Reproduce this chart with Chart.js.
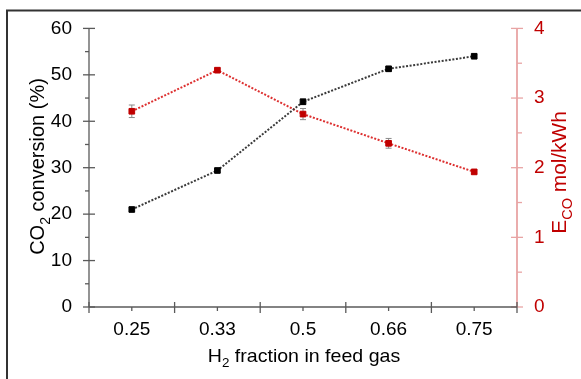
<!DOCTYPE html>
<html>
<head>
<meta charset="utf-8">
<script src="https://cdn.jsdelivr.net/npm/chart.js@4.4.0/dist/chart.umd.min.js"></script>
<style>
  html, body { margin: 0; padding: 0; background: #fff; }
  #wrap { position: relative; width: 581px; height: 379px; }
</style>
</head>
<body>
<div id="wrap"><canvas id="myChart"></canvas></div>
<script>
// data
var categories = ['0.25', '0.33', '0.5', '0.66', '0.75'];
var conversion = [21.0, 29.4, 44.2, 51.3, 54.0];       // CO2 conversion (%)
var conversionErr = [0.4, 0.4, 0.6, 0.5, 0.4];
var energy = [2.81, 3.40, 2.77, 2.35, 1.94];           // E_CO mol/kWh
var energyErr = [0.09, 0.03, 0.08, 0.07, 0.03];
var leftTicks = [0, 10, 20, 30, 40, 50, 60];
var rightTicks = [0, 1, 2, 3, 4];

var FONT = '"Liberation Sans", Arial, sans-serif';
var RED = '#c00000';
var AXIS = '#5a5a5a';
var PINK = '#e8a4a4';

function richText(ctx, parts, size, color, stretch) {
    // draws parts centered on x=0, baseline y=0
    var subSize = Math.round(size * 0.7);
    var total = 0;
    parts.forEach(function (p) {
        ctx.font = (p[1] ? subSize : size) + 'px ' + FONT;
        total += ctx.measureText(p[0]).width;
    });
    ctx.scale(stretch || 1, 1);
    var x = -total / 2;
    ctx.fillStyle = color;
    ctx.textBaseline = 'alphabetic';
    ctx.textAlign = 'left';
    parts.forEach(function (p) {
        ctx.font = (p[1] ? subSize : size) + 'px ' + FONT;
        ctx.fillText(p[0], x, p[1] ? size * 0.3 : 0);
        x += ctx.measureText(p[0]).width;
    });
}

function line(ctx, x1, y1, x2, y2) {
    ctx.beginPath();
    ctx.moveTo(x1, y1);
    ctx.lineTo(x2, y2);
    ctx.stroke();
}

var decorPlugin = {
    id: 'decor',
    beforeDraw: function (chart) {
        var ctx = chart.ctx;
        ctx.save();
        ctx.fillStyle = '#fff';
        ctx.fillRect(0, 0, chart.width, chart.height);
        // outer frame (only top and left edges show)
        ctx.strokeStyle = '#333';
        ctx.lineWidth = 2;
        ctx.beginPath();
        ctx.moveTo(7, chart.height + 2);
        ctx.lineTo(7, 10.5);
        ctx.lineTo(chart.width + 2, 10.5);
        ctx.stroke();
        ctx.restore();
    },
    beforeDatasetsDraw: function (chart) {
        var ctx = chart.ctx;
        var a = chart.chartArea;
        var xs = chart.scales.x, ys = chart.scales.y, y1 = chart.scales.y1;
        ctx.save();

        // right axis (pink)
        ctx.strokeStyle = PINK;
        ctx.lineWidth = 1.8;
        line(ctx, a.right, a.top, a.right, a.bottom);
        ctx.lineWidth = 1.3;
        rightTicks.forEach(function (v, i) {
            var y = y1.getPixelForValue(v);
            line(ctx, a.right - 6, y, a.right + 6, y);
            if (i < rightTicks.length - 1) {
                var ym = y1.getPixelForValue(v + 0.5);
                line(ctx, a.right, ym, a.right + 5, ym);
            }
        });

        // left axis
        ctx.strokeStyle = AXIS;
        ctx.lineWidth = 1.3;
        line(ctx, a.left, a.top, a.left, a.bottom);
        leftTicks.forEach(function (v, i) {
            var y = ys.getPixelForValue(v);
            line(ctx, a.left - 6, y, a.left + 6, y);
            if (i < leftTicks.length - 1) {
                var ym = ys.getPixelForValue(v + 5);
                line(ctx, a.left - 4, ym, a.left, ym);
            }
        });

        // bottom axis
        line(ctx, a.left, a.bottom, a.right, a.bottom);
        var step = (a.right - a.left) / categories.length;
        for (var k = 0; k <= categories.length; k++) {
            var x = a.left + k * step;
            line(ctx, x, a.bottom - 5, x, a.bottom + 6);
        }
        categories.forEach(function (c, i) {
            var xc = xs.getPixelForValue(i);
            line(ctx, xc, a.bottom, xc, a.bottom + 4);
        });

        // error bars
        ctx.strokeStyle = '#8a8a8a';
        ctx.lineWidth = 1;
        function bars(vals, errs, scale) {
            vals.forEach(function (v, i) {
                var x = xs.getPixelForValue(i);
                var top = scale.getPixelForValue(v + errs[i]);
                var bot = scale.getPixelForValue(v - errs[i]);
                line(ctx, x, top, x, bot);
                line(ctx, x - 3, top, x + 3, top);
                line(ctx, x - 3, bot, x + 3, bot);
            });
        }
        bars(conversion, conversionErr, ys);
        bars(energy, energyErr, y1);

        // axis titles
        ctx.save();
        ctx.translate(44, 166.5);
        ctx.rotate(-Math.PI / 2);
        richText(ctx, [['CO', false], ['2', true], [' conversion (%)', false]], 20, '#000');
        ctx.restore();

        ctx.save();
        ctx.translate(566, 172.5);
        ctx.rotate(-Math.PI / 2);
        richText(ctx, [['E', false], ['CO', true], [' mol/kWh', false]], 20, RED, 1.04);
        ctx.restore();

        ctx.save();
        ctx.translate(304, 361.5);
        richText(ctx, [['H', false], ['2', true], [' fraction in feed gas', false]], 19, '#000', 1.03);
        ctx.restore();

        ctx.restore();
    }
};

function renderChart() {
    var ctx = document.getElementById('myChart').getContext('2d');

    var myChart = new Chart(ctx, {
        type: 'line',
        data: {
            labels: categories,
            datasets: [{
                label: 'CO2 conversion',
                data: conversion,
                yAxisID: 'y',
                borderColor: '#3a3a3a',
                borderWidth: 2,
                borderDash: [2, 1.6],
                pointStyle: 'rect',
                pointRadius: 4,
                pointBorderWidth: 1,
                pointBackgroundColor: '#000',
                pointBorderColor: '#000',
                tension: 0,
                fill: false
            }, {
                label: 'E_CO',
                data: energy,
                yAxisID: 'y1',
                borderColor: '#dd3030',
                borderWidth: 2,
                borderDash: [2, 1.6],
                pointStyle: 'rect',
                pointRadius: 4,
                pointBorderWidth: 1,
                pointBackgroundColor: RED,
                pointBorderColor: RED,
                tension: 0,
                fill: false
            }]
        },
        options: {
            responsive: true,
            maintainAspectRatio: false,
            animation: false,
            layout: { padding: { top: 28, left: 0, right: 0, bottom: 0 } },
            plugins: {
                legend: { display: false },
                tooltip: { enabled: false }
            },
            scales: {
                x: {
                    type: 'category',
                    offset: true,
                    grid: { display: false, drawTicks: false },
                    border: { display: false },
                    ticks: { color: '#000', font: { family: FONT, size: 19 }, padding: 11, maxRotation: 0 },
                    afterFit: function (s) { s.height = 72; }
                },
                y: {
                    position: 'left',
                    min: 0, max: 60,
                    grid: { display: false, drawTicks: false },
                    border: { display: false },
                    ticks: { stepSize: 10, color: '#000', font: { family: FONT, size: 19 }, padding: 17 },
                    afterFit: function (s) { s.width = 89; }
                },
                y1: {
                    position: 'right',
                    min: 0, max: 4,
                    grid: { display: false, drawTicks: false },
                    border: { display: false },
                    ticks: { stepSize: 1, color: RED, font: { family: FONT, size: 19 }, padding: 17 },
                    afterFit: function (s) { s.width = 64; }
                }
            }
        },
        plugins: [decorPlugin]
    });
}

renderChart();
</script>
</body>
</html>
